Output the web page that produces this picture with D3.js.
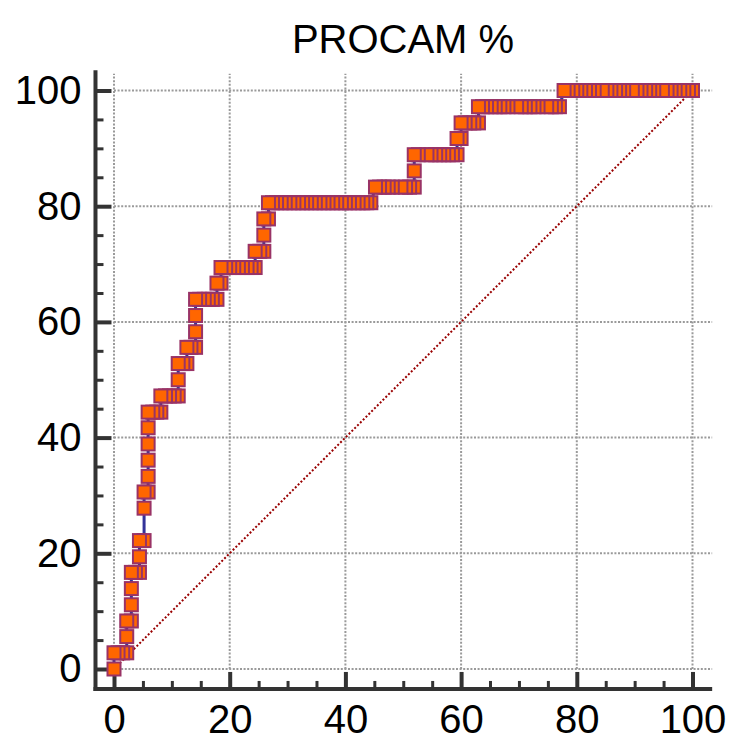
<!DOCTYPE html>
<html>
<head>
<meta charset="utf-8">
<script src="https://cdn.jsdelivr.net/npm/d3@7"></script>
<style>
  html, body { margin: 0; padding: 0; background: #fff; }
  svg { display: block; }
  text { font-family: "Liberation Sans", Arial, sans-serif; fill: #000; }
</style>
</head>
<body>
<svg id="chart" width="731" height="742"></svg>
<script>
// ---- data ----
const chartTitle = "PROCAM %";
const majorTicks = [0, 20, 40, 60, 80, 100];
const minorTicks = [5, 10, 15, 25, 30, 35, 45, 50, 55, 65, 70, 75, 85, 90, 95];

// sensitivity (true positive rate, %) of each level
const sensitivity = [0, 2.8, 5.6, 8.3, 11.1, 13.9, 16.7, 19.4, 22.2, 25.0, 27.8, 30.6, 33.3,
  36.1, 38.9, 41.7, 44.4, 47.2, 50.0, 52.8, 55.6, 58.3, 61.1, 63.9, 66.7, 69.4, 72.2, 75.0,
  77.8, 80.6, 83.3, 86.1, 88.9, 91.7, 94.4, 97.2, 100];

// 100 - specificity (%) of the criterion points found at each sensitivity level
const fprByLevel = [
  [0],
  [0, 0.7, 1.5, 2.2],
  [2.2],
  [2.2, 3.0],
  [3.0],
  [3.0],
  [3.0, 3.7, 4.4],
  [4.4],
  [4.4, 5.2],
  [],
  [5.2],
  [5.2, 5.9],
  [5.9],
  [5.9],
  [5.9],
  [5.9],
  [5.9, 6.7, 7.4, 8.1],
  [8.1, 8.9, 9.6, 10.4, 11.1],
  [11.1],
  [11.1, 11.9, 12.6],
  [12.6, 13.3, 14.1],
  [14.1],
  [14.1],
  [14.1, 14.8, 15.6, 16.3, 17.0, 17.8],
  [17.8, 18.5],
  [18.5, 19.3, 20.0, 20.7, 21.5, 22.2, 23.0, 23.7, 24.4],
  [24.4, 25.2, 25.9],
  [25.9],
  [25.9, 26.7],
  [26.7, 27.4, 28.1, 28.9, 29.6, 30.4, 31.1, 31.9, 32.6, 33.3, 34.1, 34.8, 35.6, 36.3, 37.0,
   37.8, 38.5, 39.3, 40.0, 40.7, 41.5, 42.2, 43.0, 43.7, 44.4],
  [45.2, 45.9, 46.7, 47.4, 48.1, 49.6, 50.4, 51.1, 51.9],
  [51.9],
  [51.9, 52.6, 54.1, 54.8, 55.6, 56.3, 57.0, 57.8, 58.5, 59.3],
  [59.3, 60.0],
  [60.0, 60.7, 61.5, 62.2, 63.0],
  [63.0, 63.7, 64.4, 65.2, 65.9, 66.7, 67.4, 68.1, 69.6, 70.4, 71.1, 71.9, 72.6, 73.3, 74.8,
   75.6, 76.3, 77.0],
  [77.8, 78.5, 79.3, 80.0, 80.7, 81.5, 82.2, 83.0, 84.4, 85.2, 85.9, 86.7, 87.4, 88.1, 89.6,
   90.4, 91.1, 91.9, 92.6, 93.3, 94.8, 95.6, 96.3, 97.0, 97.8, 98.5, 99.3, 100]
];

// ---- build points ----
const points = [];
fprByLevel.forEach((arr, i) => arr.forEach(f => points.push({ fpr: f, tpr: sensitivity[i] })));

// ---- layout ----
const svg = d3.select("#chart");
const x = d3.scaleLinear().domain([0, 100]).range([114, 692.5]);
const y = d3.scaleLinear().domain([0, 100]).range([669, 90.5]);
const axisX0 = -3.2, axisXmax = 103.4;   // spine extents in data units
const axisY0 = -3.45, axisYmax = 103.5;

svg.append("rect").attr("width", 731).attr("height", 742).attr("fill", "#fff");

// grid
const grid = svg.append("g").attr("stroke", "#9a9a9a").attr("stroke-width", 2)
  .attr("stroke-dasharray", "2,1.6").attr("fill", "none");
majorTicks.forEach(t => {
  grid.append("line").attr("x1", x(t)).attr("x2", x(t)).attr("y1", y(0)).attr("y2", y(102.9));
  grid.append("line").attr("x1", x(0)).attr("x2", x(axisXmax)).attr("y1", y(t)).attr("y2", y(t));
});

// diagonal reference line
svg.append("line")
  .attr("x1", x(0)).attr("y1", y(0)).attr("x2", x(100)).attr("y2", y(100))
  .attr("stroke", "#990000").attr("stroke-width", 2).attr("stroke-dasharray", "2,2");

// axes
const spineX = x(axisX0), spineY = y(axisY0);
const axisColor = "#333";

function styleAxis(g, w) {
  g.select(".domain").remove();
  g.selectAll(".tick line").attr("stroke", axisColor).attr("stroke-width", w);
  g.selectAll(".tick text").attr("font-size", 40).attr("fill", "#000")
    .attr("font-family", "'Liberation Sans', Arial, sans-serif");
}

const yMajor = svg.append("g").attr("transform", `translate(${spineX},0)`)
  .call(d3.axisLeft(y).tickValues(majorTicks).tickSize(-16).tickPadding(14).tickFormat(d3.format("d")));
styleAxis(yMajor, 4);
const yMinor = svg.append("g").attr("transform", `translate(${spineX},0)`)
  .call(d3.axisLeft(y).tickValues(minorTicks).tickSize(-8).tickFormat(""));
styleAxis(yMinor, 3);

const xMajor = svg.append("g").attr("transform", `translate(0,${spineY})`)
  .call(d3.axisBottom(x).tickValues(majorTicks).tickSize(-17).tickPadding(16).tickFormat(d3.format("d")));
styleAxis(xMajor, 4);
const xMinor = svg.append("g").attr("transform", `translate(0,${spineY})`)
  .call(d3.axisBottom(x).tickValues(minorTicks).tickSize(-8).tickFormat(""));
styleAxis(xMinor, 3);

// spines
svg.append("line").attr("x1", spineX).attr("x2", spineX).attr("y1", y(axisYmax)).attr("y2", spineY + 2)
  .attr("stroke", axisColor).attr("stroke-width", 4);
svg.append("line").attr("x1", spineX - 2).attr("x2", x(axisXmax)).attr("y1", spineY).attr("y2", spineY)
  .attr("stroke", axisColor).attr("stroke-width", 4);

// ROC line
const linePts = points.slice().sort((a, b) => a.tpr - b.tpr || a.fpr - b.fpr);
svg.append("path")
  .datum(linePts)
  .attr("d", d3.line().x(d => x(d.fpr)).y(d => y(d.tpr)))
  .attr("fill", "none").attr("stroke", "#333399").attr("stroke-width", 3);

// markers: drawn from upper right to lower left so the left-most square of a run is on top
const markPts = points.slice().sort((a, b) => b.tpr - a.tpr || b.fpr - a.fpr);
const ms = 13;
svg.append("g").selectAll("rect").data(markPts).join("rect")
  .attr("x", d => x(d.fpr) - ms / 2).attr("y", d => y(d.tpr) - ms / 2)
  .attr("width", ms).attr("height", ms)
  .attr("fill", "#FF6600").attr("stroke", "#993366").attr("stroke-width", 2);

// title
svg.append("text").attr("x", 403).attr("y", 53).attr("text-anchor", "middle")
  .attr("font-size", 40).text(chartTitle);
</script>
</body>
</html>
